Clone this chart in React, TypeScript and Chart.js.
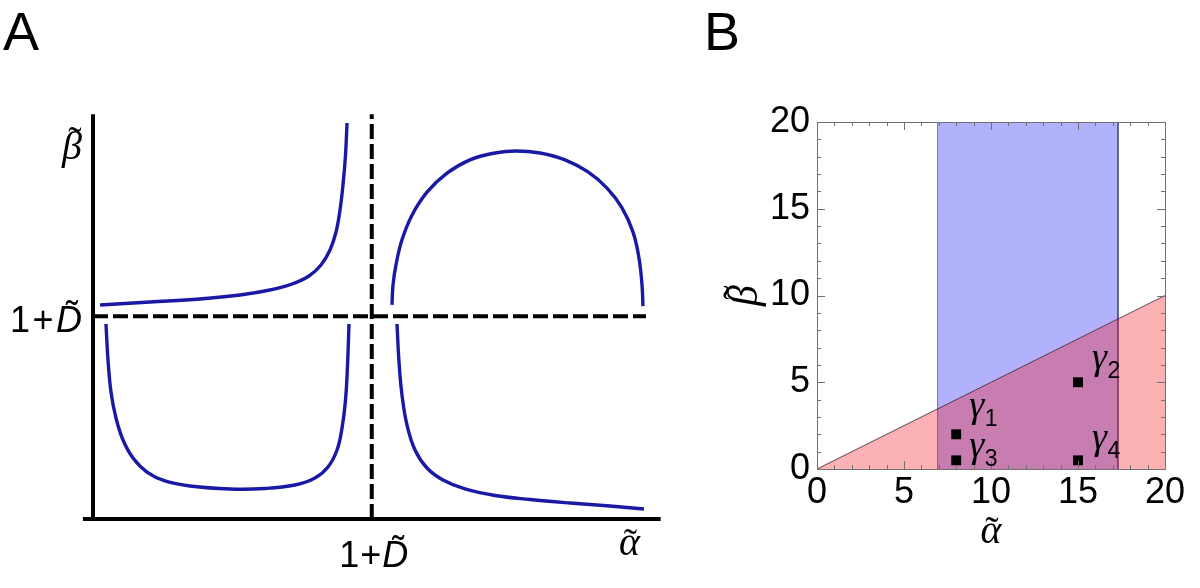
import React, { useEffect, useRef } from "react";
import { Chart, registerables } from "chart.js";

Chart.register(...registerables);

// ---------------- Panel A data (schematic units; 1+D̃ marks both asymptotes) ----------------
const A_ONE_PLUS_D_ALPHA = 4.96;
const A_ONE_PLUS_D_BETA = 5.02;
const A_AXIS_TOP = 10.02;
const A_AXIS_RIGHT = 10.1;
const A_AXIS_LEFT = -0.18;
const A_HDASH_END = 9.84;

const upperLeftAlpha = [0.125, 1.014, 1.904, 2.616, 3.149, 3.541, 3.843, 4.057, 4.217, 4.324, 4.395, 4.448, 4.493, 4.52];
const upperLeftBeta = [5.297, 5.371, 5.446, 5.545, 5.668, 5.817, 6.015, 6.287, 6.658, 7.104, 7.649, 8.267, 9.01, 9.802];

const lowerLeftAlpha = [0.231, 0.267, 0.32, 0.409, 0.534, 0.712, 0.961, 1.281, 1.726, 2.438, 3.06, 3.594, 3.95, 4.181, 4.342, 4.431, 4.493, 4.529, 4.555];
const lowerLeftBeta = [4.827, 3.936, 3.144, 2.5, 1.955, 1.51, 1.163, 0.941, 0.817, 0.743, 0.755, 0.842, 1.015, 1.287, 1.708, 2.252, 2.946, 3.812, 4.827];

const upperRightAlpha = [5.32, 5.338, 5.391, 5.498, 5.676, 5.943, 6.299, 6.708, 7.153, 7.527, 7.954, 8.399, 8.808, 9.146, 9.413, 9.609, 9.715, 9.769, 9.786];
const upperRightBeta = [5.3, 5.79, 6.29, 6.91, 7.52, 8.09, 8.56, 8.89, 9.06, 9.11, 9.06, 8.89, 8.59, 8.19, 7.7, 7.1, 6.46, 5.79, 5.27];

const lowerRightAlpha = [5.409, 5.445, 5.498, 5.587, 5.73, 5.943, 6.228, 6.619, 7.153, 7.776, 8.488, 9.199, 9.804];
const lowerRightBeta = [4.827, 3.886, 3.069, 2.327, 1.708, 1.262, 0.965, 0.743, 0.582, 0.483, 0.396, 0.322, 0.248];

// ---------------- Panel B data ----------------
const B_MIN = 0;
const B_MAX = 20;
const B_MAJOR_STEP = 5;
const B_MINOR_STEP = 1;
const blueRegionAlpha = [6.93, 6.93, 17.3, 17.3];
const blueRegionBeta = [0, 20, 20, 0];
const redRegionAlpha = [0, 20];
const redRegionBeta = [0, 10];
const pointNames = ["1", "2", "3", "4"];
const pointAlpha = [8, 15, 8, 15];
const pointBeta = [2, 5, 0.5, 0.5];

// ---------------- styles ----------------
const SANS = '"Liberation Sans", Arial, Helvetica, sans-serif';
const SERIF = '"Liberation Serif", "Times New Roman", serif';
const CURVE = "rgb(25,25,165)";
const LABEL_OFFSETS = [
  [13, -17],
  [14, -13],
  [13, -3],
  [14, -11],
];

const zip = (xs: number[], ys: number[]) => xs.map((x, i) => ({ x, y: ys[i] }));

type Part = { t: string; font: string; dy?: number; pad?: number; tilde?: { font: string; dx: number; dy: number } };

function drawParts(ctx: CanvasRenderingContext2D, parts: Part[], x: number, y: number, align: "left" | "center" | "right") {
  ctx.textAlign = "left";
  ctx.textBaseline = "alphabetic";
  let total = 0;
  for (const p of parts) {
    ctx.font = p.font;
    total += ctx.measureText(p.t).width + 2 * (p.pad || 0);
  }
  let cx = align === "left" ? x : align === "center" ? x - total / 2 : x - total;
  for (const p of parts) {
    ctx.font = p.font;
    const w = ctx.measureText(p.t).width;
    cx += p.pad || 0;
    ctx.textAlign = "left";
    ctx.fillText(p.t, cx, y + (p.dy || 0));
    if (p.tilde) {
      ctx.font = p.tilde.font;
      ctx.textAlign = "center";
      ctx.fillText("\u02DC", cx + w / 2 + p.tilde.dx, y + p.tilde.dy);
    }
    cx += w + (p.pad || 0);
  }
}

function onePlusD(size: number, pad: number): Part[] {
  return [
    { t: "1", font: `${size}px ${SANS}` },
    { t: "+", font: `${size}px ${SANS}`, pad },
    { t: "D", font: `italic ${size}px ${SANS}`, tilde: { font: `${size}px ${SANS}`, dx: 3, dy: -5 } },
  ];
}

export default function App() {
  const refA = useRef<HTMLCanvasElement>(null);
  const refB = useRef<HTMLCanvasElement>(null);

  useEffect(() => {
    const lineDs = (data: { x: number; y: number }[], color: string, width: number, dash: number[] = []) => ({
      data,
      showLine: true,
      borderColor: color,
      borderWidth: width,
      borderDash: dash,
      borderCapStyle: "butt" as const,
      pointRadius: 0,
      pointHoverRadius: 0,
      fill: false,
      tension: 0,
    });
    const curveDs = (data: { x: number; y: number }[]) => ({
      ...lineDs(data, CURVE, 3.4),
      tension: 0.4,
      borderCapStyle: "butt" as const,
      borderJoinStyle: "round" as const,
    });

    const labelsA = {
      id: "labelsA",
      afterDraw(chart: any) {
        const ctx: CanvasRenderingContext2D = chart.ctx;
        const xs = chart.scales.x;
        const ys = chart.scales.y;
        ctx.save();
        ctx.fillStyle = "#000";
        ctx.font = `54px ${SANS}`;
        ctx.textAlign = "left";
        ctx.textBaseline = "alphabetic";
        ctx.fillText("A", 3, 50);

        const yD = ys.getPixelForValue(A_ONE_PLUS_D_BETA);
        drawParts(ctx, onePlusD(36, 2.5), xs.getPixelForValue(0) - 11, yD + 16, "right");
        drawParts(ctx, onePlusD(36, 1), xs.getPixelForValue(A_ONE_PLUS_D_ALPHA) + 2, ys.getPixelForValue(0) + 48, "center");

        drawParts(
          ctx,
          [{ t: "β", font: `italic 40px ${SERIF}`, tilde: { font: `40px ${SERIF}`, dx: 3, dy: -5 } }],
          xs.getPixelForValue(0) - 31,
          ys.getPixelForValue(A_AXIS_TOP) + 45,
          "left"
        );
        drawParts(
          ctx,
          [{ t: "α", font: `italic 40px ${SERIF}`, tilde: { font: `40px ${SERIF}`, dx: 1, dy: 1 } }],
          xs.getPixelForValue(A_HDASH_END) - 27,
          ys.getPixelForValue(0) + 36,
          "left"
        );
        ctx.restore();
      },
    };

    const chartA = new Chart(refA.current!, {
      type: "scatter",
      data: {
        datasets: [
          curveDs(zip(upperLeftAlpha, upperLeftBeta)),
          curveDs(zip(lowerLeftAlpha, lowerLeftBeta)),
          curveDs(zip(upperRightAlpha, upperRightBeta)),
          curveDs(zip(lowerRightAlpha, lowerRightBeta)),
          lineDs([{ x: 0, y: A_ONE_PLUS_D_BETA }, { x: A_HDASH_END, y: A_ONE_PLUS_D_BETA }], "#000", 4, [15, 5]),
          lineDs([{ x: A_ONE_PLUS_D_ALPHA, y: 0 }, { x: A_ONE_PLUS_D_ALPHA, y: A_AXIS_TOP }], "#000", 4, [15, 5]),
          lineDs([{ x: A_AXIS_LEFT, y: 0 }, { x: A_AXIS_RIGHT, y: 0 }], "#000", 4),
          lineDs([{ x: 0, y: 0 }, { x: 0, y: A_AXIS_TOP }], "#000", 4),
        ] as any,
      },
      options: {
        animation: false,
        responsive: false,
        events: [],
        layout: { padding: { left: 81.76, right: 33.76, top: 106.92, bottom: 60.92 } },
        scales: {
          x: { type: "linear", min: -0.2, max: 10.2, display: false },
          y: { type: "linear", min: -0.2, max: 10.2, display: false },
        },
        plugins: { legend: { display: false }, tooltip: { enabled: false } },
      },
      plugins: [labelsA],
    });

    const frameB = {
      id: "frameB",
      afterDatasetsDraw(chart: any) {
        const ctx: CanvasRenderingContext2D = chart.ctx;
        const ca = chart.chartArea;
        const xs = chart.scales.x;
        const ys = chart.scales.y;
        ctx.save();
        ctx.strokeStyle = "#707070";
        ctx.lineWidth = 1;
        ctx.beginPath();
        for (let v = B_MIN; v <= B_MAX; v += B_MINOR_STEP) {
          const len = v % B_MAJOR_STEP === 0 ? 8 : 4;
          const px = Math.round(xs.getPixelForValue(v)) + 0.5;
          const py = Math.round(ys.getPixelForValue(v)) + 0.5;
          ctx.moveTo(px, ca.bottom);
          ctx.lineTo(px, ca.bottom - len);
          ctx.moveTo(px, ca.top);
          ctx.lineTo(px, ca.top + len);
          ctx.moveTo(ca.left, py);
          ctx.lineTo(ca.left + len, py);
          ctx.moveTo(ca.right, py);
          ctx.lineTo(ca.right - len, py);
        }
        ctx.stroke();
        ctx.strokeRect(Math.round(ca.left) + 0.5, Math.round(ca.top) + 0.5, Math.round(ca.right - ca.left), Math.round(ca.bottom - ca.top));

        // point labels
        ctx.fillStyle = "#000";
        pointNames.forEach((n, i) => {
          const px = xs.getPixelForValue(pointAlpha[i]) + LABEL_OFFSETS[i][0];
          const py = ys.getPixelForValue(pointBeta[i]) + LABEL_OFFSETS[i][1];
          drawParts(
            ctx,
            [
              { t: "γ", font: `italic 38px ${SERIF}` },
              { t: n, font: `23px ${SANS}`, dy: 9, pad: 0.5 },
            ],
            px,
            py,
            "left"
          );
        });

        // panel letter and axis titles
        ctx.font = `54px ${SANS}`;
        ctx.textAlign = "left";
        ctx.textBaseline = "alphabetic";
        ctx.fillText("B", 4, 50);
        drawParts(
          ctx,
          [{ t: "α", font: `italic 40px ${SERIF}`, tilde: { font: `40px ${SERIF}`, dx: 1, dy: 1 } }],
          (ca.left + ca.right) / 2,
          ca.bottom + 74,
          "center"
        );
        ctx.save();
        ctx.translate(ca.left - 60, (ca.top + ca.bottom) / 2);
        ctx.rotate(-Math.PI / 2);
        drawParts(
          ctx,
          [{ t: "β", font: `italic 42px ${SERIF}`, tilde: { font: `42px ${SERIF}`, dx: 3, dy: -5 } }],
          0,
          0,
          "center"
        );
        ctx.restore();
        ctx.restore();
      },
    };

    const tickFont = { family: '"Liberation Sans", Arial, sans-serif', size: 36 };
    const chartB = new Chart(refB.current!, {
      type: "scatter",
      data: {
        datasets: [
          {
            data: zip(pointAlpha, pointBeta),
            pointStyle: "rect",
            pointRadius: 7,
            pointHoverRadius: 7,
            backgroundColor: "#000",
            borderColor: "#000",
            borderWidth: 0,
            showLine: false,
          },
          {
            data: zip(redRegionAlpha, redRegionBeta),
            showLine: true,
            pointRadius: 0,
            borderColor: "rgba(70,40,70,0.85)",
            borderWidth: 1,
            backgroundColor: "rgba(245,0,0,0.3)",
            fill: "origin",
            tension: 0,
          },
          {
            data: zip(blueRegionAlpha, blueRegionBeta),
            showLine: true,
            pointRadius: 0,
            borderColor: "rgba(40,40,110,0.6)",
            borderWidth: 1,
            backgroundColor: "rgba(0,0,245,0.3)",
            fill: "origin",
            tension: 0,
          },
        ] as any,
      },
      options: {
        animation: false,
        responsive: false,
        events: [],
        layout: { padding: { left: 0, right: 35, top: 122, bottom: 0 } },
        scales: {
          x: {
            type: "linear",
            min: B_MIN,
            max: B_MAX,
            grid: { display: false, drawTicks: false },
            border: { display: false },
            ticks: { stepSize: B_MAJOR_STEP, font: tickFont, color: "#000", padding: 2, maxRotation: 0 },
            afterFit: (s: any) => {
              s.height = 119;
            },
          },
          y: {
            type: "linear",
            min: B_MIN,
            max: B_MAX,
            grid: { display: false, drawTicks: false },
            border: { display: false },
            ticks: { stepSize: B_MAJOR_STEP, font: tickFont, color: "#000", padding: 7 },
            afterFit: (s: any) => {
              s.width = 117;
            },
          },
        },
        plugins: { legend: { display: false }, tooltip: { enabled: false } },
      },
      plugins: [frameB],
    });

    return () => {
      chartA.destroy();
      chartB.destroy();
    };
  }, []);

  return (
    <div style={{ position: "absolute", left: 0, top: 0, width: 1200, height: 588, background: "#fff", overflow: "hidden" }}>
      <canvas ref={refA} width={700} height={588} style={{ position: "absolute", left: 0, top: 0, width: 700, height: 588 }} />
      <canvas ref={refB} width={500} height={588} style={{ position: "absolute", left: 700, top: 0, width: 500, height: 588 }} />
    </div>
  );
}
